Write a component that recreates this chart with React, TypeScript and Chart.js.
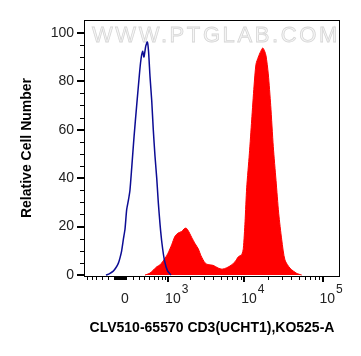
import React, { useEffect, useRef } from 'react';
import { Chart, registerables } from 'chart.js';

Chart.register(...registerables);

// Histogram channels are in display (decade) units of the biexponential axis.
const blueX = [2.234, 2.28, 2.327, 2.36, 2.391, 2.412, 2.434, 2.457, 2.477, 2.498, 2.521, 2.54, 2.562, 2.592, 2.626, 2.66, 2.675, 2.69, 2.703, 2.719, 2.741, 2.762, 2.777, 2.796, 2.818, 2.838, 2.86, 2.882, 2.902, 2.924, 2.949, 2.981, 3.02, 3.064];
const blueY = [0, 0.6, 1.6, 3, 4.8, 7, 10, 15, 19, 27, 31, 35, 44, 57, 70, 82.5, 87.5, 91, 92.3, 90, 94.4, 96.2, 92.5, 82, 72, 60, 49, 40, 30, 21, 13, 6, 1.7, 0];

const redX = [2.732, 2.796, 2.882, 2.924, 2.988, 3.026, 3.073, 3.115, 3.154, 3.201, 3.23, 3.256, 3.281, 3.329, 3.371, 3.413, 3.447, 3.499, 3.537, 3.601, 3.665, 3.716, 3.776, 3.831, 3.882, 3.924, 3.968, 3.988, 4.01, 4.031, 4.065, 4.095, 4.125, 4.15, 4.18, 4.21, 4.236, 4.259, 4.278, 4.307, 4.338, 4.371, 4.406, 4.44, 4.479, 4.52, 4.585, 4.67, 4.734];
const redY = [0, 0.8, 3.4, 4.2, 6.9, 9, 12.5, 16, 17.3, 18, 19, 19.4, 18.5, 15.5, 13, 10.8, 8, 5, 4.3, 4, 2.9, 2.4, 3, 4, 5.5, 7.5, 8.5, 11, 22, 36, 50, 64, 78, 87, 90, 92.3, 93.7, 92.5, 90.5, 83, 70, 53, 39, 25.5, 14.5, 6.2, 2.8, 0.7, 0];

const yTicks = [0, 20, 40, 60, 80, 100];
const yMinorStep = 5;
const xMajorValues = [0, 1000, 10000, 100000];
const xMajorLabels = ['0', '10^3', '10^4', '10^5'];
const xTitle = 'CLV510-65570 CD3(UCHT1),KO525-A';
const yTitle = 'Relative Cell Number';
const watermark = 'WWW.PTGLAB.COM';

const X_MIN = 1.953;
const X_MAX = 5.223;
const Y_MIN = -0.4;
const Y_MAX = 105.25;

const W = 262;
const toDisplay = (v: number) => Math.log10(W) + Math.asinh(v / (2 * W)) / Math.LN10;

function minorTickValues(): number[] {
  const out: number[] = [];
  for (let v = -900; v <= -100; v += 100) out.push(v);
  for (let v = -90; v <= 90; v += 10) out.push(v);
  for (let v = 200; v <= 900; v += 100) out.push(v);
  for (let d = 1000; d <= 100000; d *= 10) {
    for (let k = 2; k <= 9; k++) out.push(k * d);
  }
  return out;
}

const FONT = '"Liberation Sans", Arial, Helvetica, sans-serif';

const decorPlugin = {
  id: 'decor',
  beforeDatasetsDraw(chart: any) {
    const { ctx, chartArea } = chart;
    ctx.save();
    ctx.font = `22px ${FONT}`;
    (ctx as any).letterSpacing = '2.6px';
    ctx.textAlign = 'left';
    ctx.textBaseline = 'alphabetic';
    ctx.fillStyle = '#f6f6f6';
    ctx.strokeStyle = '#d6d6d6';
    ctx.lineWidth = 0.8;
    ctx.fillText(watermark, chartArea.left + 8, chartArea.top + 22);
    ctx.strokeText(watermark, chartArea.left + 8, chartArea.top + 22);
    ctx.restore();
  },
  afterDraw(chart: any) {
    const { ctx, chartArea } = chart;
    const xs = chart.scales.x;
    const ys = chart.scales.y;
    const { left, right, top, bottom } = chartArea;
    ctx.save();
    // frame
    ctx.strokeStyle = '#000';
    ctx.lineWidth = 1;
    ctx.strokeRect(left + 0.5, top + 0.5, right - left - 1, bottom - top);
    ctx.fillStyle = '#000';
    // y ticks
    for (let v = 0; v <= 100; v += yMinorStep) {
      const y = Math.round(ys.getPixelForValue(v));
      if (yTicks.includes(v)) ctx.fillRect(left - 7, y - 1, 7, 2);
      else ctx.fillRect(left - 4, y, 4, 1);
    }
    // x minor ticks
    for (const v of minorTickValues()) {
      const d = toDisplay(v);
      if (d < X_MIN || d > X_MAX) continue;
      const x = Math.round(xs.getPixelForValue(d));
      ctx.fillRect(x, bottom, 1, 4);
    }
    // x major ticks + labels
    xMajorValues.forEach((v, i) => {
      const d = toDisplay(v);
      const x = xs.getPixelForValue(d);
      const [base, sup] = xMajorLabels[i].split('^');
      if (v !== 0) {
        ctx.fillStyle = '#000';
        ctx.fillRect(Math.round(x) - 1, bottom, 2, 6);
      }
      ctx.fillStyle = '#222';
      ctx.textBaseline = 'alphabetic';
      ctx.font = `14px ${FONT}`;
      if (!sup) {
        ctx.textAlign = 'center';
        ctx.fillText(base, x + 4.5, bottom + 26.5);
      } else {
        ctx.textAlign = 'left';
        const bx = x - 3;
        ctx.fillText(base, bx, bottom + 26.5);
        const bw = ctx.measureText(base).width;
        ctx.font = `12px ${FONT}`;
        ctx.fillText(sup, bx + bw + 1, bottom + 17);
      }
    });
    ctx.restore();
  },
};

export default function App() {
  const ref = useRef<HTMLCanvasElement | null>(null);
  useEffect(() => {
    if (!ref.current) return;
    const chart = new Chart(ref.current, {
      type: 'line',
      data: {
        datasets: [
          {
            label: 'Control',
            data: blueX.map((x, i) => ({ x, y: blueY[i] })),
            borderColor: '#0c0c94',
            borderWidth: 1.5,
            fill: false,
            pointRadius: 0,
            tension: 0.2,
          },
          {
            label: 'CD3',
            data: redX.map((x, i) => ({ x, y: redY[i] })),
            borderColor: '#ff0000',
            backgroundColor: '#ff0000',
            borderWidth: 1,
            fill: 'origin',
            pointRadius: 0,
            tension: 0.25,
          },
        ],
      },
      options: {
        animation: false,
        responsive: false,
        maintainAspectRatio: false,
        devicePixelRatio: 1,
        layout: { padding: { left: 0, right: 21, top: 20, bottom: 0 } },
        plugins: { legend: { display: false }, tooltip: { enabled: false } },
        scales: {
          x: {
            type: 'linear',
            min: X_MIN,
            max: X_MAX,
            ticks: { display: false },
            grid: { display: false, drawTicks: false },
            border: { display: false },
            title: {
              display: true,
              text: xTitle,
              color: '#000',
              font: { family: FONT, size: 14, weight: 'bold' },
              padding: { top: 0, bottom: 19 },
            },
            afterFit: (s: any) => {
              s.height = 80;
            },
          },
          y: {
            type: 'linear',
            min: Y_MIN,
            max: Y_MAX,
            afterBuildTicks: (s: any) => {
              s.ticks = yTicks.map((v) => ({ value: v }));
            },
            ticks: { padding: 10, color: '#222', font: { family: FONT, size: 14 } },
            grid: { display: false, drawTicks: false },
            border: { display: false },
            title: {
              display: true,
              text: yTitle,
              color: '#000',
              font: { family: FONT, size: 14, weight: 'bold' },
              padding: { top: 19, bottom: 0 },
            },
            afterFit: (s: any) => {
              s.width = 84;
            },
          },
        },
      },
      plugins: [decorPlugin],
    } as any);
    return () => chart.destroy();
  }, []);
  return (
    <div style={{ position: 'fixed', left: 0, top: 0, width: 361, height: 356, background: '#fff' }}>
      <canvas ref={ref} width={361} height={356} style={{ display: 'block' }} />
    </div>
  );
}
